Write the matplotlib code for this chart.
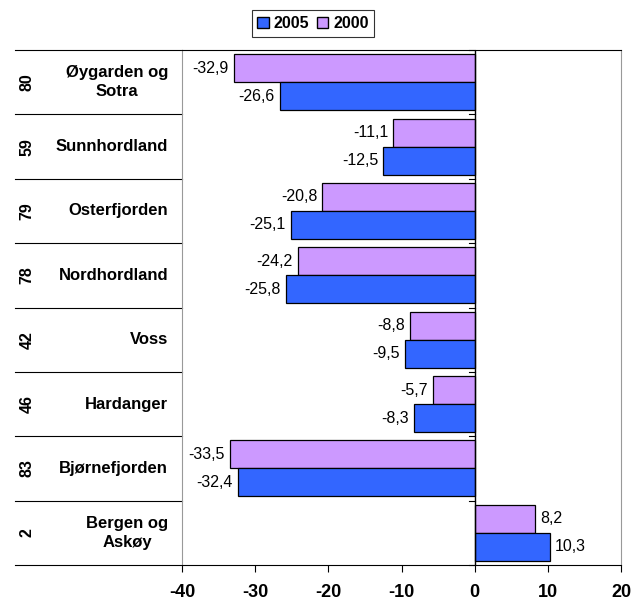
import matplotlib
matplotlib.use("Agg")
import matplotlib.pyplot as plt
import numpy as np
from matplotlib.transforms import blended_transform_factory
from matplotlib.patches import Patch

plt.rcParams['font.family'] = ['Liberation Sans', 'DejaVu Sans']

regions = ["Øygarden og\nSotra", "Sunnhordland", "Osterfjorden", "Nordhordland",
           "Voss", "Hardanger", "Bjørnefjorden", "Bergen og\nAskøy"]
codes = ["80", "59", "79", "78", "42", "46", "83", "2"]
v2005 = [-26.6, -12.5, -25.1, -25.8, -9.5, -8.3, -32.4, 10.3]
v2000 = [-32.9, -11.1, -20.8, -24.2, -8.8, -5.7, -33.5, 8.2]
xticks = [-40, -30, -20, -10, 0, 10, 20]

c2005 = "#3366FF"
c2000 = "#CC99FF"

fig = plt.figure(figsize=(6.43, 6.01), dpi=100)
ax = fig.add_axes([182/643, 1-565/601, (621-182)/643, (565-50)/601])

n = len(regions)
y = np.arange(n)
h = 0.435
ax.barh(y - h/2, v2000, height=h, color=c2000, edgecolor="black", linewidth=0.9)
ax.barh(y + h/2, v2005, height=h, color=c2005, edgecolor="black", linewidth=0.9)

def fmt(v):
    return f"{v:.1f}".replace(".", ",")

for yi, a, b in zip(y, v2000, v2005):
    for val, yy in ((a, yi - h/2), (b, yi + h/2)):
        if val < 0:
            ax.text(val - 0.7, yy, fmt(val), ha="right", va="center", fontsize=11.5)
        else:
            ax.text(val + 0.7, yy, fmt(val), ha="left", va="center", fontsize=11.5)

ax.set_xlim(-40, 20)
ax.set_ylim(n - 0.5, -0.5)
ax.set_xticks(xticks)
ax.set_xticklabels([str(t) for t in xticks], fontweight="bold", fontsize=13)
ax.tick_params(axis="x", direction="out", length=5, width=0.8, pad=9)
ax.set_yticks([])
ax.axvline(0, color="black", linewidth=1)

for s in ["left", "right"]:
    ax.spines[s].set_color("#999999")
ax.spines["top"].set_color("black")
ax.spines["bottom"].set_color("black")

trans = blended_transform_factory(ax.transAxes, ax.transData)
x_left = (15 - 182) / (621 - 182)
for b in np.arange(-0.5, n, 1.0):
    ax.plot([x_left, 0], [b, b], transform=trans, color="black", linewidth=0.8, clip_on=False)
    ax.plot([-0.8, 0], [b, b], color="black", linewidth=0.8, clip_on=False)

x_lab = (168 - 182) / (621 - 182)
x_code = (27 - 182) / (621 - 182)
for yi, r, c in zip(y, regions, codes):
    ax.text(x_lab, yi, r, transform=trans, ha="right", va="center",
            multialignment="center", fontweight="bold", fontsize=12, linespacing=1.3)
    ax.text(x_code, yi, c, transform=trans, ha="center", va="center",
            rotation=90, fontweight="bold", fontsize=11.5)

handles = [Patch(facecolor=c2005, edgecolor="black", label="2005"),
           Patch(facecolor=c2000, edgecolor="black", label="2000")]
leg = fig.legend(handles=handles, loc="center", bbox_to_anchor=(313/643, 1-23.5/601),
                 ncol=2, frameon=True, fancybox=False, edgecolor="black",
                 handlelength=0.7, handleheight=0.7, handletextpad=0.3, columnspacing=0.5,
                 borderpad=0.35, prop={"weight": "bold", "size": 11.5})
leg.get_frame().set_linewidth(0.8)

fig.savefig("out.png", dpi=100)
